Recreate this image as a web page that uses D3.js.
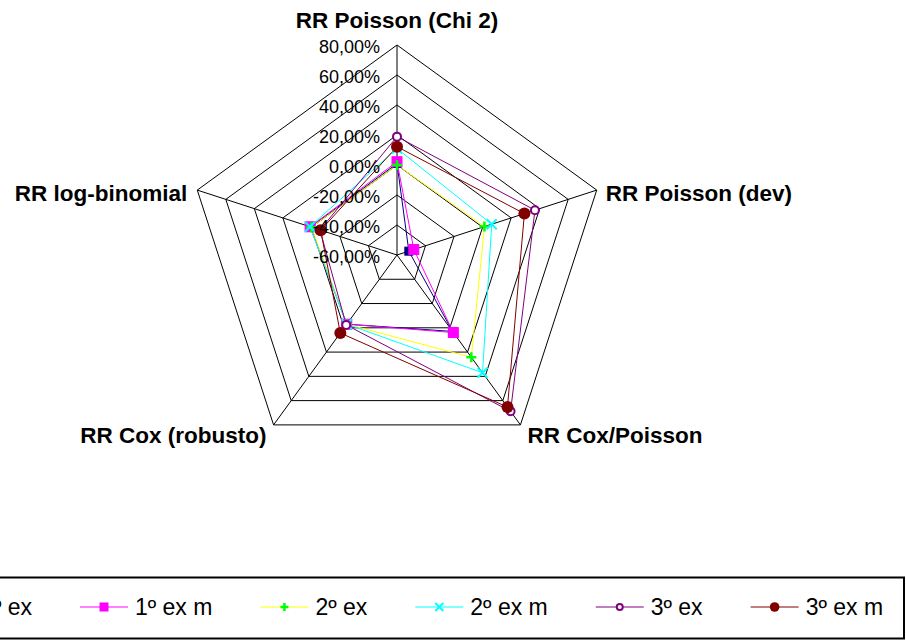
<!DOCTYPE html>
<html>
<head>
<meta charset="utf-8">
<script src="https://cdn.jsdelivr.net/npm/d3@7"></script>
<style>
  body { margin: 0; background: #fff; }
  svg { display: block; font-family: Arial, "Liberation Sans", sans-serif; }
  .grid { fill: none; stroke: #000; stroke-width: 1; }
  .tick { font-size: 18px; fill: #000; }
  .axlabel { font-size: 22.5px; font-weight: bold; fill: #000; }
  .legtext { font-size: 23px; fill: #000; }
</style>
</head>
<body>
<div id="radar"></div>
<script>
//*********************** DATA ***********************
var axisNames = ["RR Poisson (Chi 2)", "RR Poisson (dev)", "RR Cox/Poisson", "RR Cox (robusto)", "RR log-binomial"];
var tickValues = [-60, -40, -20, 0, 20, 40, 60, 80];
var seriesNames = ["1º ex", "1º ex m", "2º ex", "2º ex m", "3º ex", "3º ex m"];
var ex1  = [1.0, -51.7, 3.0, -3.0, 0.5];
var ex1m = [2.2, -48.2, 3.9, -3.0, 0.9];
var ex2  = [0.0, 1.3, 24.3, -3.0, 0.0];
var ex2m = [11.0, 6.4, 37.0, -3.0, 1.0];
var ex3  = [18.9, 36.7, 68.8, -2.4, -6.0];
var ex3m = [12.2, 29.3, 65.3, 4.3, -6.5];

//*********************** DECLARE VARIABLES ***********************
var width = 906,
    height = 642,
    cx = 397,
    cy = 255,
    rScale = d3.scaleLinear().domain([-60, 80]).range([0, 210]),
    n = axisNames.length;

var styles = [
  {line: "#000080", marker: "square", fill: "#000080", stroke: "#000080", size: 8},
  {line: "#ff00ff", marker: "square", fill: "#ff00ff", stroke: "#ff00ff", size: 10},
  {line: "#ffff00", marker: "plus", fill: "none", stroke: "#00ff00", size: 10},
  {line: "#00ffff", marker: "cross", fill: "none", stroke: "#00ffff", size: 10},
  {line: "#800080", marker: "ring", fill: "#fff", stroke: "#800080", size: 5},
  {line: "#800000", marker: "dot", fill: "#800000", stroke: "#800000", size: 6}
];
var allSeries = [ex1, ex1m, ex2, ex2m, ex3, ex3m];

var loc = d3.formatLocale({decimal: ",", thousands: ".", grouping: [3], currency: ["", ""], minus: "-"});
var fmt = loc.format(".2f");

function angle(i) { return i * 2 * Math.PI / n; }
function pt(i, v) {
  var r = rScale(v);
  return [cx + r * Math.sin(angle(i)), cy - r * Math.cos(angle(i))];
}

var svg = d3.select("#radar").append("svg")
    .attr("width", width)
    .attr("height", height);

//*********************** GRID ***********************
var grid = svg.append("g");

tickValues.slice(1).forEach(function(t) {
  var ring = d3.range(n).map(function(i) { return pt(i, t); });
  grid.append("polygon")
      .attr("class", "grid")
      .attr("points", ring.map(function(p) { return p.join(","); }).join(" "));
});

d3.range(n).forEach(function(i) {
  var p = pt(i, 80);
  grid.append("line")
      .attr("class", "grid")
      .attr("x1", cx).attr("y1", cy)
      .attr("x2", p[0]).attr("y2", p[1]);
});

//axis labels
var labelPos = [
  {dx: 0, dy: -25, anchor: "middle"},
  {dx: 9, dy: 3, anchor: "start"},
  {dx: 7, dy: 10, anchor: "start"},
  {dx: -7, dy: 10, anchor: "end"},
  {dx: -10, dy: 3, anchor: "end"}
];
axisNames.forEach(function(name, i) {
  var p = pt(i, 80);
  svg.append("text")
      .attr("class", "axlabel")
      .attr("x", p[0] + labelPos[i].dx)
      .attr("y", p[1] + labelPos[i].dy)
      .attr("dy", "0.35em")
      .attr("text-anchor", labelPos[i].anchor)
      .text(name);
});

//*********************** SERIES ***********************
var line = d3.line()
    .x(function(d) { return d[0]; })
    .y(function(d) { return d[1]; })
    .curve(d3.curveLinearClosed);

function drawMarker(g, st, x, y, small) {
  var s = small ? st.size * 0.8 : st.size;
  if (st.marker == "square") {
    g.append("rect")
        .attr("x", x - s / 2).attr("y", y - s / 2)
        .attr("width", s).attr("height", s)
        .attr("fill", st.fill).attr("stroke", st.stroke).attr("stroke-width", 1);
  } else if (st.marker == "plus") {
    g.append("path")
        .attr("d", "M" + (x - s / 2) + "," + y + "H" + (x + s / 2) + "M" + x + "," + (y - s / 2) + "V" + (y + s / 2))
        .attr("stroke", st.stroke).attr("stroke-width", 2.5).attr("fill", "none");
  } else if (st.marker == "cross") {
    var h = s / 2;
    g.append("path")
        .attr("d", "M" + (x - h) + "," + (y - h) + "L" + (x + h) + "," + (y + h) + "M" + (x - h) + "," + (y + h) + "L" + (x + h) + "," + (y - h))
        .attr("stroke", st.stroke).attr("stroke-width", 2).attr("fill", "none");
  } else if (st.marker == "ring") {
    g.append("circle")
        .attr("cx", x).attr("cy", y).attr("r", s - 1)
        .attr("fill", st.fill).attr("stroke", st.stroke).attr("stroke-width", 2);
  } else {
    g.append("circle")
        .attr("cx", x).attr("cy", y).attr("r", s)
        .attr("fill", st.fill);
  }
}

allSeries.forEach(function(vals, k) {
  var pts = vals.map(function(v, i) { return pt(i, v); });
  svg.append("path")
      .attr("d", line(pts))
      .attr("fill", "none")
      .attr("stroke", styles[k].line)
      .attr("stroke-width", 1);
});
allSeries.forEach(function(vals, k) {
  var g = svg.append("g");
  vals.forEach(function(v, i) {
    var p = pt(i, v);
    drawMarker(g, styles[k], p[0], p[1], false);
  });
});

//tick labels on the top axis
svg.append("g").selectAll("text")
    .data(tickValues)
    .enter().append("text")
    .attr("class", "tick")
    .attr("x", cx - 17)
    .attr("y", function(d) { return cy - rScale(d) + 2; })
    .attr("dy", "0.35em")
    .attr("text-anchor", "end")
    .text(function(d) { return fmt(d) + "%"; });

//*********************** LEGEND ***********************
var legend = svg.append("g").attr("class", "legend");

legend.append("rect")
    .attr("x", -100).attr("y", 577.5)
    .attr("width", 1004).attr("height", 61)
    .attr("fill", "#fff")
    .attr("stroke", "#000")
    .attr("stroke-width", 2);

var legY = 607,
    items = [],
    xPos = 0;

seriesNames.forEach(function(name, k) {
  var it = legend.append("g");
  it.append("line")
      .attr("x1", 0).attr("x2", 48)
      .attr("y1", legY).attr("y2", legY)
      .attr("stroke", styles[k].line).attr("stroke-width", 1);
  drawMarker(it, styles[k], 24, legY, true);
  var t = it.append("text")
      .attr("class", "legtext")
      .attr("x", 55)
      .attr("y", legY)
      .attr("dy", "0.35em")
      .text(name);
  items.push({g: it, x: xPos});
  xPos += 55 + t.node().getComputedTextLength() + 48;
});

var shift = 80 - items[1].x;
items.forEach(function(d) {
  d.g.attr("transform", "translate(" + (d.x + shift) + ",0)");
});
</script>
</body>
</html>
